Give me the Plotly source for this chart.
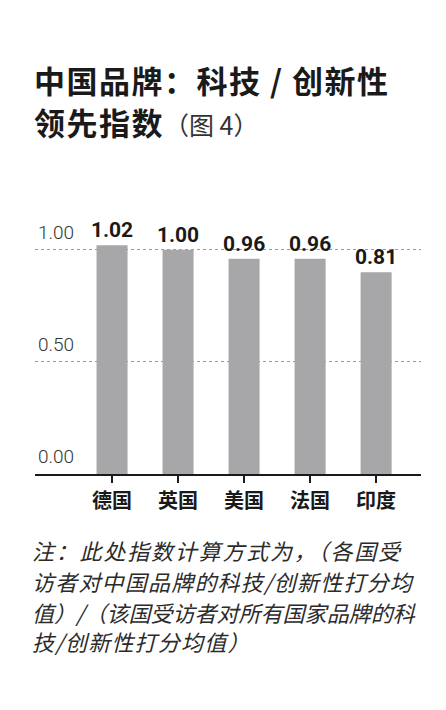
import plotly.graph_objects as go

# Data
countries = ['德国', '英国', '美国', '法国', '印度']
# bar heights as drawn (the 印度 bar is drawn at ~0.90 in the source)
bar_values = [1.02, 1.00, 0.96, 0.96, 0.90]
# values printed above the bars
bar_labels = ['1.02', '1.00', '0.96', '0.96', '0.81']
y_ticks = [0.0, 0.5, 1.0]

title_line1 = "<span style='letter-spacing:1.5px'><b>中国品牌：科技 / 创新性</b></span>"
title_line2 = ("<span style='letter-spacing:1.5px'><b>领先指数</b></span>"
               "<span style='font-size:25px;color:#333'>（图 4）</span>")
note_lines = [
    '注：此处指数计算方式为，（各国受',
    '访者对中国品牌的科技/创新性打分均',
    '值）/（该国受访者对所有国家品牌的科',
    '技/创新性打分均值）',
]
note_spacing = [1.8, 1.2, 0.0, 1.2]
note_y = [-0.2825, -0.3978, -0.513, -0.6208]

cjk = 'Noto Sans CJK SC'

# Bars
plot_data = [
    go.Bar(
        x=countries,
        y=bar_values,
        text=bar_labels,
        textposition='outside',
        constraintext='none',
        textfont=dict(family='Roboto', size=21, color='#1a1a1a', weight='bold'),
        cliponaxis=False,
        marker=dict(color='#a7a7a9', line=dict(width=0)),
        width=0.47,
    )
]

annotations = [
    dict(text=title_line1, xref='paper', yref='paper', x=-0.008, y=1.468,
         xanchor='left', yanchor='middle', showarrow=False,
         font=dict(family=cjk, size=31, color='#1a1a1a')),
    dict(text=title_line2, xref='paper', yref='paper', x=-0.008, y=1.312,
         xanchor='left', yanchor='middle', showarrow=False,
         font=dict(family=cjk, size=31, color='#1a1a1a')),
]
# footnote, one annotation per line
for line, sp, yy in zip(note_lines, note_spacing, note_y):
    annotations.append(dict(
        text="<span style='letter-spacing:%spx'>%s</span>" % (sp, line),
        xref='paper', yref='paper', x=-0.012, y=yy,
        xanchor='left', yanchor='middle', showarrow=False,
        font=dict(family=cjk, size=22, color='#2b2b2b', style='italic')))

# page body adds an 8px margin, so the figure is 8px smaller than the window
plot_layout = go.Layout(
    width=438,
    height=702,
    margin=dict(l=27, r=25, t=197, b=236),
    paper_bgcolor='white',
    plot_bgcolor='white',
    showlegend=False,
    xaxis=dict(
        range=[-1.167, 4.68],
        showline=True,
        linecolor='#1a1a1a',
        linewidth=1.5,
        ticks='outside',
        ticklen=7,
        tickwidth=1.5,
        tickcolor='#1a1a1a',
        ticklabelstandoff=1,
        tickfont=dict(family=cjk, size=20, color='#1a1a1a', weight='bold'),
        showgrid=False,
        zeroline=False,
    ),
    yaxis=dict(
        range=[0, 1.2],
        tickvals=y_ticks,
        tickformat='.2f',
        ticks='',
        ticklabelposition='inside top',
        ticklabelshift=-4,
        tickfont=dict(family='Roboto', size=19, color='#333333', weight=300),
        showgrid=True,
        gridcolor='#9a9a9a',
        griddash='dot',
        gridwidth=1,
        zeroline=False,
        showline=False,
    ),
    annotations=annotations,
)

fig = go.Figure(data=plot_data, layout=plot_layout)
fig.write_html('out.html')
